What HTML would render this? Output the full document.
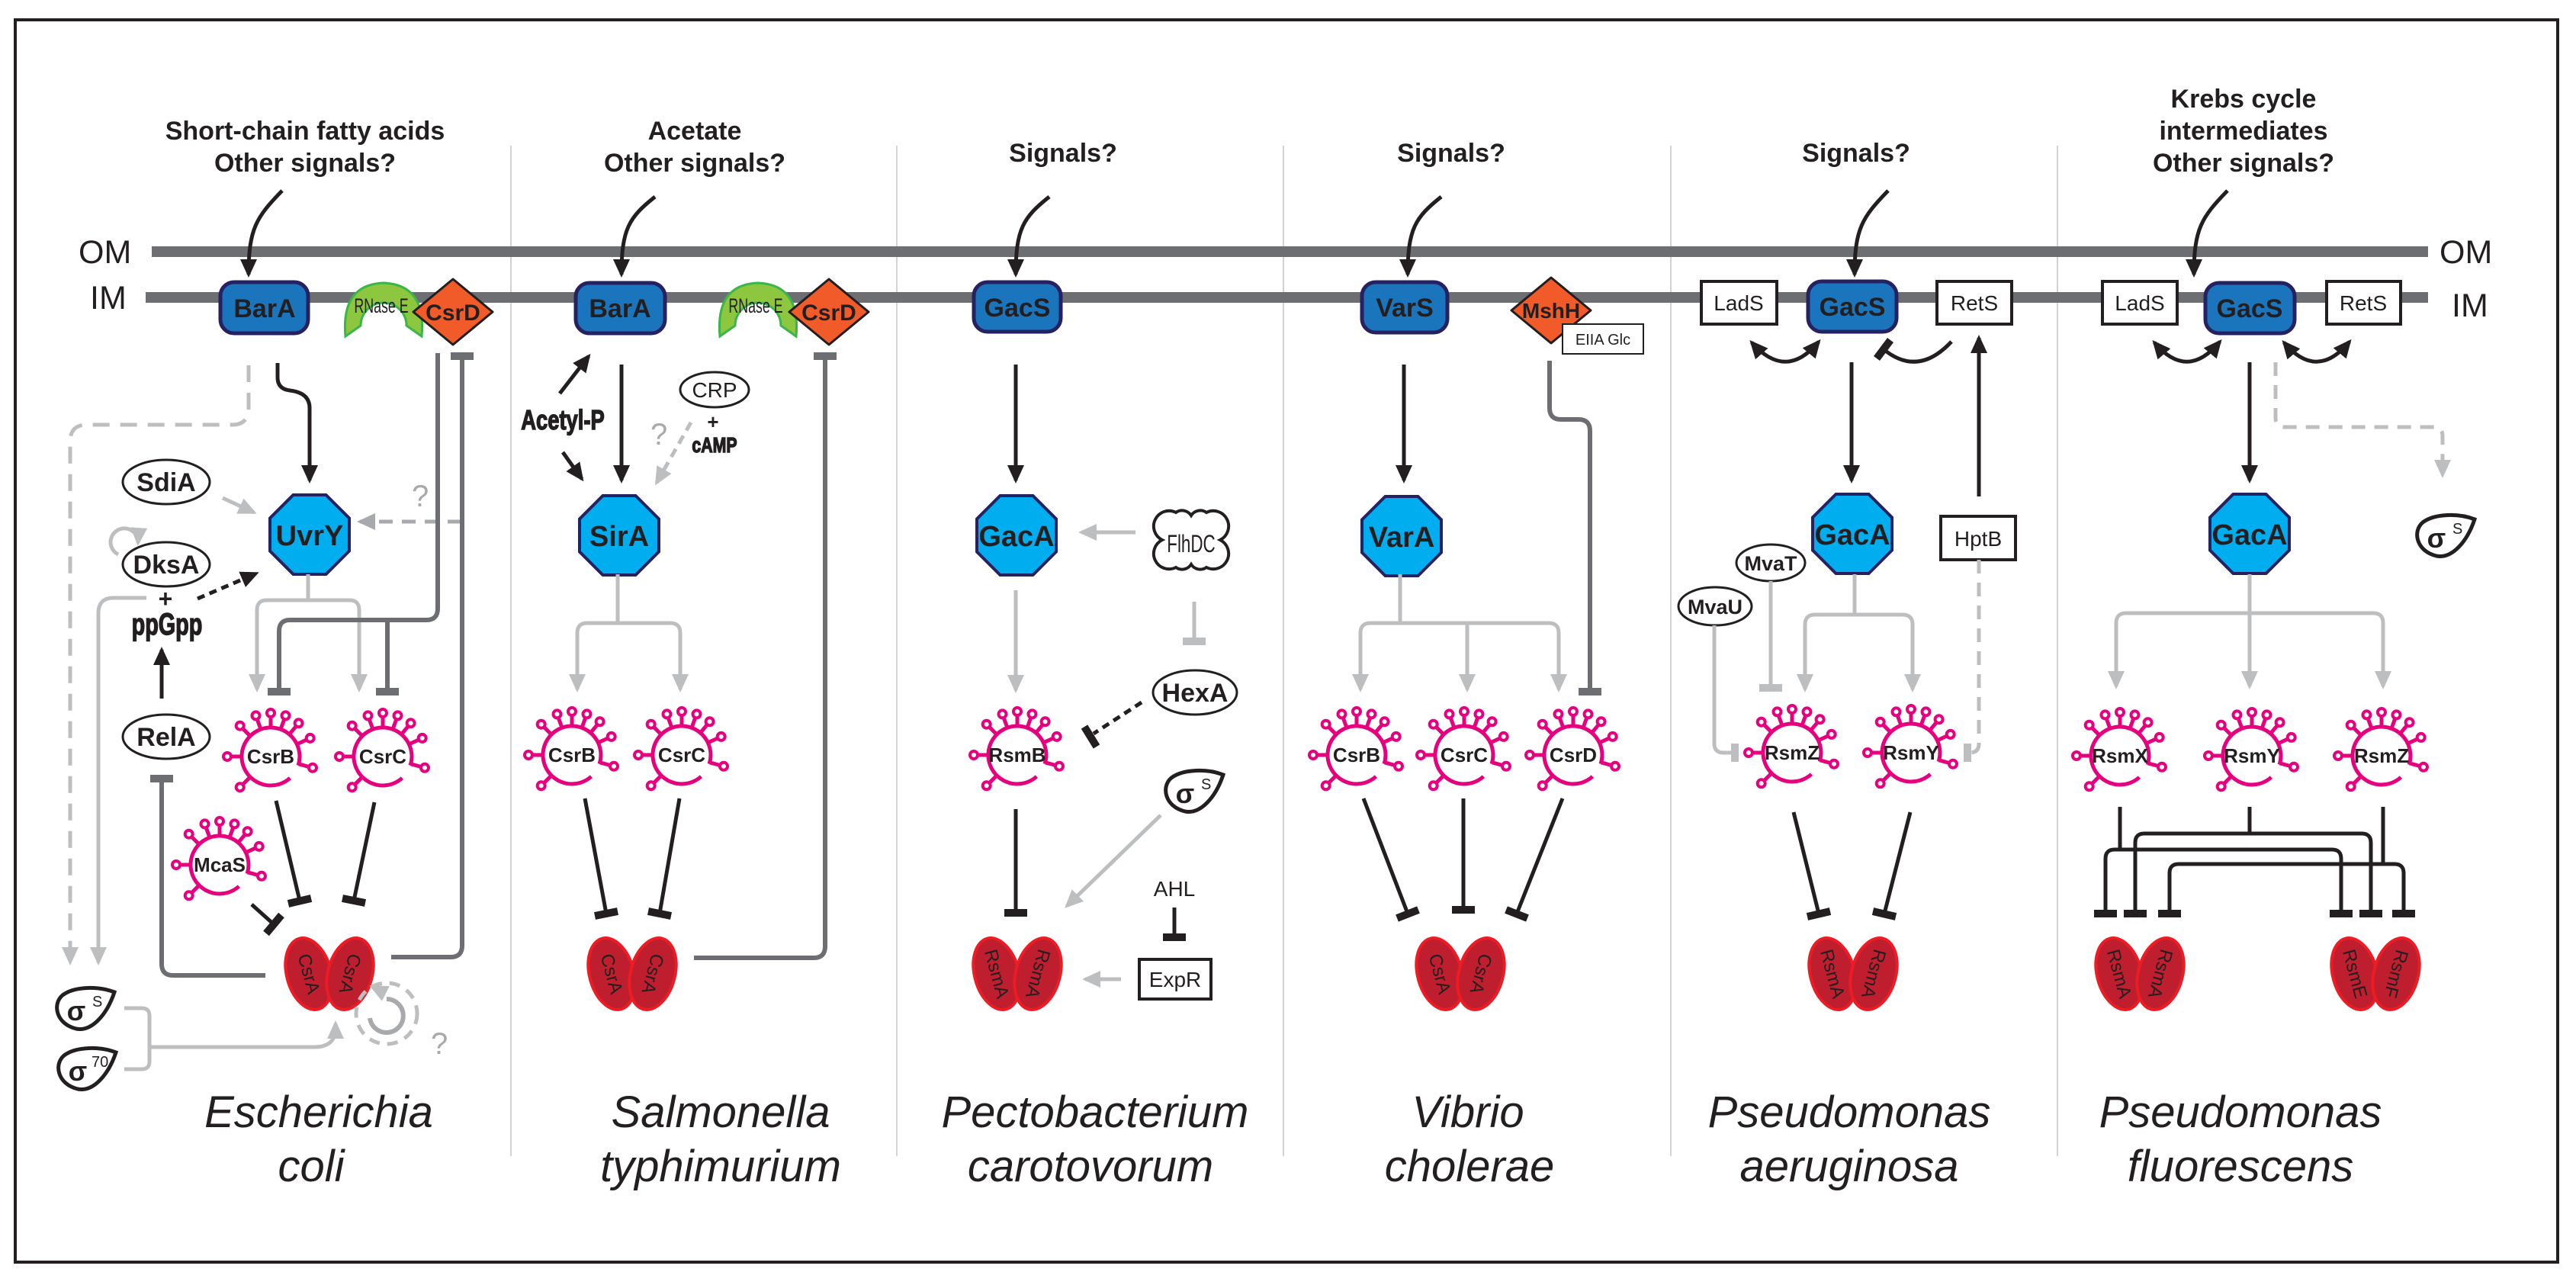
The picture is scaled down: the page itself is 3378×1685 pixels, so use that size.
<!DOCTYPE html>
<html><head><meta charset="utf-8"><style>
html,body{margin:0;padding:0;background:#fff;}
svg{display:block;}
text{font-family:"Liberation Sans",sans-serif;fill:#231f20;}
.b{font-weight:bold;}
.hd{font-size:34px;font-weight:bold;text-anchor:middle;}
.sp{font-size:58px;font-style:italic;text-anchor:middle;}
.bx{font-size:34px;font-weight:bold;text-anchor:middle;}
.oc{font-size:38px;font-weight:bold;text-anchor:middle;}
.fl{font-size:26px;font-weight:bold;text-anchor:middle;}
.el{font-size:34px;font-weight:bold;text-anchor:middle;}
.wb{font-size:28px;text-anchor:middle;}
.dm{font-size:24px;text-anchor:middle;}
.hv{stroke:#231f20;stroke-width:1.5px;}
.k{stroke:#231f20;stroke-width:5;fill:none;}
.g{stroke:#bcbec0;stroke-width:5;fill:none;}
.d{stroke:#6d6e71;stroke-width:6;fill:none;}
.tb{stroke:#231f20;stroke-width:10;fill:none;}
.tg{stroke:#bcbec0;stroke-width:10;fill:none;}
.td{stroke:#6d6e71;stroke-width:10;fill:none;}
.blue{fill:#1b75bc;stroke:#262262;stroke-width:5;}
.wbox{fill:#fff;stroke:#231f20;stroke-width:4;}
.ell{fill:#fff;stroke:#231f20;stroke-width:3;}
</style></head><body>
<svg width="3378" height="1685" viewBox="0 0 3378 1685" xmlns="http://www.w3.org/2000/svg">
<defs>
<marker id="ab" markerUnits="userSpaceOnUse" markerWidth="26" markerHeight="24" refX="20" refY="11" orient="auto"><path d="M0,0 L24,11 L0,22 Z" fill="#231f20"/></marker>
<marker id="abs" markerUnits="userSpaceOnUse" markerWidth="26" markerHeight="24" refX="20" refY="11" orient="auto-start-reverse"><path d="M0,0 L24,11 L0,22 Z" fill="#231f20"/></marker>
<marker id="ag" markerUnits="userSpaceOnUse" markerWidth="26" markerHeight="24" refX="20" refY="11" orient="auto"><path d="M0,0 L24,11 L0,22 Z" fill="#bcbec0"/></marker>
<marker id="aq" markerUnits="userSpaceOnUse" markerWidth="26" markerHeight="24" refX="20" refY="11" orient="auto"><path d="M0,0 L24,11 L0,22 Z" fill="#a7a9ac"/></marker>
<polygon id="oct" points="52,21.5 21.5,52 -21.5,52 -52,21.5 -52,-21.5 -21.5,-52 21.5,-52 52,-21.5" fill="#00aeef" stroke="#262262" stroke-width="4"/>
<g id="fl" stroke="#e6007e" stroke-width="5" fill="none">
<path d="M25.4,28.2 A38 38 0 1 1 36.1,11.7"/>
<path d="M-26.9,26.9 L-36.8,36.8 M-38,0 L-52,0 M-26.9,-26.9 L-36.8,-36.8 M-13,-35.7 L-17.8,-48.9 M0,-38 L0,-52 M13,-35.7 L17.8,-48.9 M24.4,-29.1 L33.4,-39.8 M34.4,-16.1 L47.1,-22 M36.7,9.8 L50.2,13.5"/>
<g fill="#fff" stroke-width="4">
<circle cx="-40.3" cy="40.3" r="5"/><circle cx="-57" cy="0" r="5"/><circle cx="-40.3" cy="-40.3" r="5"/><circle cx="-19.5" cy="-53.6" r="5"/><circle cx="0" cy="-57" r="5"/><circle cx="19.5" cy="-53.6" r="5"/><circle cx="36.6" cy="-43.7" r="5"/><circle cx="51.7" cy="-24.1" r="5"/><circle cx="55" cy="14.8" r="5"/>
</g></g>
<path id="sig" d="M38,-22 C18,-30 -14,-30 -30,-18 C-44,-6 -38,20 -12,26 C8,30 28,8 38,-22 Z" fill="#fff" stroke="#231f20" stroke-width="5"/>
<g id="dimer">
<ellipse cx="-27" cy="0" rx="29" ry="48" transform="rotate(-15 -27 0)" fill="#be1e2d" stroke="#ed1c24" stroke-width="4"/>
<ellipse cx="27" cy="0" rx="29" ry="48" transform="rotate(15 27 0)" fill="#be1e2d" stroke="#ed1c24" stroke-width="4"/>
</g>
<path id="rnase" d="M0,70 Q-6,2 50,0 Q106,2 100,70 L80,56 A30 30 0 0 0 20,56 Z" fill="#8dc63f" stroke="#39b54a" stroke-width="3"/>
<polygon id="dia" points="-52,0 0,-43 52,0 0,43" fill="#f15a29" stroke="#231f20" stroke-width="3" stroke-linejoin="round"/>
</defs>

<rect x="20" y="26" width="3334" height="1629" fill="none" stroke="#231f20" stroke-width="4"/>
<g stroke="#d1d3d4" stroke-width="2">
<line x1="670" y1="191" x2="670" y2="1516"/><line x1="1176" y1="191" x2="1176" y2="1516"/><line x1="1683" y1="191" x2="1683" y2="1516"/><line x1="2191" y1="191" x2="2191" y2="1516"/><line x1="2698" y1="191" x2="2698" y2="1516"/>
</g>
<line x1="199" y1="330" x2="3184" y2="330" stroke="#6d6e71" stroke-width="14"/>
<line x1="191" y1="390" x2="3184" y2="390" stroke="#6d6e71" stroke-width="14"/>
<text x="103" y="345" font-size="43">OM</text><text x="118" y="405" font-size="43">IM</text>
<text x="3199" y="345" font-size="43">OM</text><text x="3215" y="415" font-size="43">IM</text>

<text class="hd" x="400" y="183">Short-chain fatty acids</text><text class="hd" x="400" y="225">Other signals?</text>
<text class="hd" x="911" y="183">Acetate</text><text class="hd" x="911" y="225">Other signals?</text>
<text class="hd" x="1394" y="212">Signals?</text>
<text class="hd" x="1903" y="212">Signals?</text>
<text class="hd" x="2434" y="212">Signals?</text>
<text class="hd" x="2942" y="141">Krebs cycle</text><text class="hd" x="2942" y="183">intermediates</text><text class="hd" x="2942" y="225">Other signals?</text>

<g class="k" marker-end="url(#ab)">
<path d="M370,250 C336,285 326,300 326,360"/>
<path d="M859,258 C825,285 815,300 815,360"/>
<path d="M1376,258 C1342,285 1332,300 1332,360"/>
<path d="M1890,258 C1856,285 1846,300 1846,360"/>
<path d="M2476,250 C2442,285 2432,300 2432,360"/>
<path d="M2921,250 C2887,285 2877,300 2877,360"/>
</g>

<rect class="blue" x="289" y="370" width="115" height="67" rx="18"/><text class="bx" x="347" y="416">BarA</text>
<rect class="blue" x="755" y="371" width="117" height="66" rx="18"/><text class="bx" x="813" y="416">BarA</text>
<rect class="blue" x="1277" y="370" width="114" height="65" rx="18"/><text class="bx" x="1334" y="415">GacS</text>
<rect class="blue" x="1786" y="370" width="112" height="66" rx="18"/><text class="bx" x="1842" y="415">VarS</text>
<rect class="blue" x="2371" y="369" width="116" height="66" rx="18"/><text class="bx" x="2429" y="414">GacS</text>
<rect class="blue" x="2892" y="371" width="117" height="66" rx="18"/><text class="bx" x="2950" y="416">GacS</text>

<rect class="wbox" x="2231" y="369" width="99" height="56"/><text class="wb" x="2280" y="407">LadS</text>
<rect class="wbox" x="2540" y="369" width="98" height="56"/><text class="wb" x="2589" y="407">RetS</text>
<rect class="wbox" x="2757" y="369" width="98" height="56"/><text class="wb" x="2806" y="407">LadS</text>
<rect class="wbox" x="3051" y="369" width="97" height="56"/><text class="wb" x="3099" y="407">RetS</text>

<use href="#rnase" x="453" y="371"/><text x="500" y="410" font-size="27" text-anchor="middle" transform="translate(500 0) scale(0.66 1) translate(-500 0)">RNase E</text>
<use href="#dia" x="594" y="409"/><text class="b" x="594" y="420" font-size="30" text-anchor="middle">CsrD</text>
<use href="#rnase" x="944" y="371"/><text x="991" y="410" font-size="27" text-anchor="middle" transform="translate(991 0) scale(0.66 1) translate(-991 0)">RNase E</text>
<use href="#dia" x="1087" y="409"/><text class="b" x="1087" y="420" font-size="30" text-anchor="middle">CsrD</text>
<use href="#dia" x="2034" y="407"/><text class="b" x="2034" y="417" font-size="28" text-anchor="middle">MshH</text>
<rect x="2049" y="425" width="106" height="39" fill="#fff" stroke="#231f20" stroke-width="2"/><text x="2102" y="452" font-size="20" text-anchor="middle">EIIA Glc</text>

<use href="#oct" x="406" y="701"/><text class="oc" x="406" y="715">UvrY</text>
<use href="#oct" x="812" y="702"/><text class="oc" x="812" y="716">SirA</text>
<use href="#oct" x="1333" y="702"/><text class="oc" x="1333" y="716">GacA</text>
<use href="#oct" x="1838" y="703"/><text class="oc" x="1838" y="717">VarA</text>
<use href="#oct" x="2429" y="700"/><text class="oc" x="2429" y="714">GacA</text>
<use href="#oct" x="2950" y="700"/><text class="oc" x="2950" y="714">GacA</text>

<!-- Column 1 -->
<path class="g" stroke-dasharray="22 14" d="M326,479 L326,535 Q326,557 304,557 L114,557 Q92,557 92,579 L92,1262" marker-end="url(#ag)"/>
<path class="k" d="M364,476 L364,495 Q364,510 380,512 Q406,515 406,535 L406,630" marker-end="url(#ab)"/>
<ellipse class="ell" cx="218" cy="632" rx="57" ry="29"/><text class="el" x="218" y="644">SdiA</text>
<path class="g" d="M292,653 L333,672" marker-end="url(#ag)"/>
<path d="M605,684 L472,684" stroke="#a7a9ac" stroke-width="5" stroke-dasharray="18 12" fill="none" marker-end="url(#aq)"/>
<text x="540" y="664" font-size="40" style="fill:#a7a9ac">?</text>
<path class="g" d="M155,727 A18 18 0 1 1 181,712" marker-end="url(#ag)"/>
<ellipse class="ell" cx="218" cy="740" rx="57" ry="29"/><text class="el" x="218" y="752">DksA</text>
<text class="b" x="217" y="796" font-size="32" text-anchor="middle">+</text>
<text class="b hv" x="219" y="832" font-size="40" text-anchor="middle" transform="translate(219 0) scale(0.72 1) translate(-219 0)">ppGpp</text>
<path class="k" stroke-dasharray="10 7" d="M259,785 L336,752" marker-end="url(#ab)"/>
<path class="k" d="M212,916 L212,852" marker-end="url(#ab)"/>
<path class="g" d="M192,784 L149,784 Q129,784 129,804 L129,1262" marker-end="url(#ag)"/>
<path class="g" d="M404,753 L404,787 M337,904 L337,800 Q337,787 350,787 L458,787 Q471,787 471,800 L471,904" marker-end="url(#ag)"/>
<path class="g" d="M337,880 L337,904" marker-end="url(#ag)"/>
<path class="d" d="M574,463 L574,798 Q574,813 559,813 L380,813 Q366,813 366,828 L366,905 M508,813 L508,905"/>
<path class="td" d="M351,907 L381,907 M493,907 L523,907"/>
<path class="d" d="M606,467 L606,1240 Q606,1255 591,1255 L513,1255"/>
<path class="td" d="M591,467 L621,467"/>
<ellipse class="ell" cx="218" cy="966" rx="57" ry="29"/><text class="el" x="218" y="978">RelA</text>
<path class="d" d="M212,1021 L212,1264 Q212,1279 227,1279 L348,1279"/>
<path class="td" d="M197,1021 L227,1021"/>
<use href="#fl" x="355" y="992"/><text class="fl" x="355" y="1001">CsrB</text>
<use href="#fl" x="502" y="992"/><text class="fl" x="502" y="1001">CsrC</text>
<use href="#fl" x="288" y="1134"/><text class="fl" x="288" y="1143">McaS</text>
<path class="k" d="M362,1050 L393,1181 M491,1052 L464,1181 M330,1186 L359,1212"/>
<path class="tb" d="M378,1185 L408,1178 M449,1178 L479,1184 M349,1224 L369,1200"/>
<use href="#dimer" x="432" y="1277"/>
<text class="dm" x="405" y="1285" transform="rotate(75 405 1277)">CsrA</text>
<text class="dm" x="459" y="1285" transform="rotate(105 459 1277)">CsrA</text>
<use href="#sig" x="112" y="1323"/><text class="b" x="100" y="1338" font-size="36" text-anchor="middle">σ</text><text x="121" y="1320" font-size="20">S</text>
<use href="#sig" x="114" y="1402"/><text class="b" x="102" y="1417" font-size="36" text-anchor="middle">σ</text><text x="120" y="1399" font-size="20">70</text>
<path class="g" d="M163,1322 L186,1322 Q196,1322 196,1332 L196,1392 Q196,1402 186,1402 L163,1402 M196,1373 L412,1373 Q440,1373 440,1348"/>
<path class="g" d="M440,1360 L440,1342" marker-end="url(#ag)"/>
<circle cx="507" cy="1329" r="40" fill="none" stroke="#bcbec0" stroke-width="5" stroke-dasharray="14 10"/>
<path d="M485,1335 A22 22 0 1 0 507,1310" fill="none" stroke="#a7a9ac" stroke-width="6"/>
<path class="g" d="M500,1300 L488,1294" marker-end="url(#ag)"/>
<text x="565" y="1382" font-size="40" style="fill:#a7a9ac">?</text>

<!-- Column 2 -->
<text class="b hv" x="738" y="563" font-size="36" text-anchor="middle" transform="translate(738 0) scale(0.76 1) translate(-738 0)">Acetyl-P</text>
<path class="k" d="M734,516 L772,467" marker-end="url(#ab)"/>
<path class="k" d="M738,593 L763,628" marker-end="url(#ab)"/>
<path class="k" d="M815,478 L815,630" marker-end="url(#ab)"/>
<ellipse class="ell" cx="937" cy="511" rx="45" ry="23"/><text x="937" y="521" font-size="28" text-anchor="middle">CRP</text>
<text class="b" x="935" y="562" font-size="26" text-anchor="middle">+</text>
<text class="b hv" x="937" y="593" font-size="28" text-anchor="middle" transform="translate(937 0) scale(0.76 1) translate(-937 0)">cAMP</text>
<path d="M906,554 L861,633" stroke="#bcbec0" stroke-width="5" stroke-dasharray="12 8" fill="none" marker-end="url(#ag)"/>
<text x="853" y="583" font-size="40" style="fill:#a7a9ac">?</text>
<path class="g" d="M810,753 L810,817 M757,904 L757,830 Q757,817 770,817 L879,817 Q892,817 892,830 L892,904" marker-end="url(#ag)"/>
<path class="g" d="M757,880 L757,904" marker-end="url(#ag)"/>
<use href="#fl" x="750" y="990"/><text class="fl" x="750" y="999">CsrB</text>
<use href="#fl" x="894" y="990"/><text class="fl" x="894" y="999">CsrC</text>
<path class="k" d="M767,1047 L795,1198 M891,1047 L865,1198"/>
<path class="tb" d="M780,1201 L810,1195 M850,1195 L880,1201"/>
<use href="#dimer" x="829" y="1277"/>
<text class="dm" x="802" y="1285" transform="rotate(75 802 1277)">CsrA</text>
<text class="dm" x="856" y="1285" transform="rotate(105 856 1277)">CsrA</text>
<path class="d" d="M910,1256 L1067,1256 Q1082,1256 1082,1241 L1082,467"/>
<path class="td" d="M1067,467 L1097,467"/>

<!-- Column 3 -->
<path class="k" d="M1332,478 L1332,630" marker-end="url(#ab)"/>
<path d="M1542,672 a14 14 0 0 1 20,4 a14 14 0 0 1 20,-4 a17 17 0 0 1 18,36 a17 17 0 0 1 -18,36 a14 14 0 0 1 -20,-4 a14 14 0 0 1 -20,4 a17 17 0 0 1 -18,-36 a17 17 0 0 1 18,-36 Z" fill="#fff" stroke="#231f20" stroke-width="4"/>
<text x="1562" y="724" font-size="32" text-anchor="middle" transform="translate(1562 0) scale(0.7 1) translate(-1562 0)">FlhDC</text>
<path class="g" d="M1489,698 L1418,698" marker-end="url(#ag)"/>
<path class="g" d="M1566,789 L1566,838"/><path class="tg" d="M1551,841 L1581,841"/>
<ellipse class="ell" cx="1567" cy="908" rx="55" ry="29"/><text class="el" x="1567" y="920">HexA</text>
<path class="k" stroke-dasharray="10 7" d="M1497,921 L1434,962"/>
<path class="tb" d="M1422,953 L1438,979"/>
<path class="g" d="M1332,774 L1332,905" marker-end="url(#ag)"/>
<use href="#fl" x="1334" y="990"/><text class="fl" x="1334" y="999">RsmB</text>
<path class="k" d="M1332,1061 L1332,1195"/><path class="tb" d="M1317,1197 L1347,1197"/>
<use href="#sig" x="1566" y="1038"/><text class="b" x="1554" y="1053" font-size="36" text-anchor="middle">σ</text><text x="1575" y="1035" font-size="20">S</text>
<path class="g" d="M1522,1069 L1399,1188" marker-end="url(#ag)"/>
<text x="1540" y="1175" font-size="28" text-anchor="middle">AHL</text>
<path class="k" d="M1540,1190 L1540,1227"/><path class="tb" d="M1525,1229 L1555,1229"/>
<rect class="wbox" x="1494" y="1258" width="94" height="52"/><text class="wb" x="1541" y="1294">ExpR</text>
<path class="g" d="M1470,1284 L1423,1284" marker-end="url(#ag)"/>
<use href="#dimer" x="1334" y="1277"/>
<text class="dm" x="1307" y="1285" transform="rotate(75 1307 1277)">RsmA</text>
<text class="dm" x="1361" y="1285" transform="rotate(105 1361 1277)">RsmA</text>

<!-- Column 4 -->
<path class="k" d="M1841,478 L1841,630" marker-end="url(#ab)"/>
<path class="d" d="M2032,473 L2032,535 Q2032,550 2047,550 L2070,550 Q2085,550 2085,565 L2085,905"/>
<path class="td" d="M2070,907 L2100,907"/>
<path class="g" d="M1836,753 L1836,817 M1784,904 L1784,830 Q1784,817 1797,817 L2031,817 Q2044,817 2044,830 L2044,904" marker-end="url(#ag)"/>
<path class="g" d="M1784,880 L1784,904" marker-end="url(#ag)"/>
<path class="g" d="M1924,817 L1924,904" marker-end="url(#ag)"/>
<use href="#fl" x="1779" y="990"/><text class="fl" x="1779" y="999">CsrB</text>
<use href="#fl" x="1920" y="990"/><text class="fl" x="1920" y="999">CsrC</text>
<use href="#fl" x="2063" y="990"/><text class="fl" x="2063" y="999">CsrD</text>
<path class="k" d="M1788,1047 L1846,1198 M1919,1047 L1919,1191 M2049,1047 L1989,1198"/>
<path class="tb" d="M1832,1204 L1860,1193 M1904,1193 L1934,1193 M1975,1193 L2003,1204"/>
<use href="#dimer" x="1915" y="1277"/>
<text class="dm" x="1888" y="1285" transform="rotate(75 1888 1277)">CsrA</text>
<text class="dm" x="1942" y="1285" transform="rotate(105 1942 1277)">CsrA</text>

<!-- Column 5 -->
<path class="k" d="M2297,449 Q2342,500 2385,448" marker-start="url(#abs)" marker-end="url(#ab)"/>
<path class="k" d="M2559,448 Q2515,495 2470,458"/>
<path class="tb" d="M2479,446 L2461,470"/>
<path class="k" d="M2595,651 L2595,443" marker-end="url(#ab)"/>
<path class="k" d="M2428,475 L2428,630" marker-end="url(#ab)"/>
<rect class="wbox" x="2545" y="677" width="98" height="57"/><text class="wb" x="2594" y="716">HptB</text>
<ellipse class="ell" cx="2322" cy="738" rx="45" ry="24"/><text class="b" x="2322" y="748" font-size="27" text-anchor="middle">MvaT</text>
<ellipse class="ell" cx="2249" cy="795" rx="48" ry="25"/><text class="b" x="2249" y="805" font-size="27" text-anchor="middle">MvaU</text>
<path class="g" d="M2432,753 L2432,806 M2367,904 L2367,819 Q2367,806 2380,806 L2495,806 Q2508,806 2508,819 L2508,904" marker-end="url(#ag)"/>
<path class="g" d="M2367,880 L2367,904" marker-end="url(#ag)"/>
<path class="g" d="M2322,762 L2322,898"/><path class="tg" d="M2307,902 L2337,902"/>
<path class="g" d="M2248,820 L2248,975 Q2248,987 2260,987 L2272,987"/><path class="tg" d="M2275,975 L2275,999"/>
<path class="g" stroke-dasharray="18 12" d="M2595,734 L2595,975 Q2595,987 2583,987"/><path class="tg" d="M2580,975 L2580,999"/>
<use href="#fl" x="2350" y="987"/><text class="fl" x="2350" y="996">RsmZ</text>
<use href="#fl" x="2506" y="987"/><text class="fl" x="2506" y="996">RsmY</text>
<path class="k" d="M2352,1065 L2385,1198 M2505,1065 L2471,1198"/>
<path class="tb" d="M2370,1202 L2400,1195 M2456,1195 L2486,1202"/>
<use href="#dimer" x="2430" y="1277"/>
<text class="dm" x="2403" y="1285" transform="rotate(75 2403 1277)">RsmA</text>
<text class="dm" x="2457" y="1285" transform="rotate(105 2457 1277)">RsmA</text>

<!-- Column 6 -->
<path class="k" d="M2825,449 Q2868,500 2911,448" marker-start="url(#abs)" marker-end="url(#ab)"/>
<path class="k" d="M2995,449 Q3038,500 3081,448" marker-start="url(#abs)" marker-end="url(#ab)"/>
<path class="k" d="M2950,475 L2950,630" marker-end="url(#ab)"/>
<path class="g" stroke-dasharray="18 12" d="M2984,475 L2984,548 Q2984,560 2996,560 L3191,560 Q3203,560 3203,572 L3203,623" marker-end="url(#ag)"/>
<use href="#sig" x="3207" y="703"/><text class="b" x="3195" y="718" font-size="36" text-anchor="middle">σ</text><text x="3216" y="700" font-size="20">S</text>
<path class="g" d="M2950,753 L2950,900" marker-end="url(#ag)"/>
<path class="g" d="M2775,900 L2775,817 Q2775,804 2788,804 L3112,804 Q3125,804 3125,817 L3125,900" marker-end="url(#ag)"/>
<path class="g" d="M2775,880 L2775,900" marker-end="url(#ag)"/>
<use href="#fl" x="2780" y="991"/><text class="fl" x="2780" y="1000">RsmX</text>
<use href="#fl" x="2953" y="991"/><text class="fl" x="2953" y="1000">RsmY</text>
<use href="#fl" x="3123" y="991"/><text class="fl" x="3123" y="1000">RsmZ</text>
<path class="k" d="M2950,1058 L2950,1093 M2800,1196 L2800,1105 Q2800,1093 2812,1093 L3097,1093 Q3109,1093 3109,1105 L3109,1196"/>
<path class="k" d="M2780,1058 L2780,1114 M2761,1196 L2761,1126 Q2761,1114 2773,1114 L3058,1114 Q3070,1114 3070,1126 L3070,1196"/>
<path class="k" d="M3125,1058 L3125,1133 M2845,1196 L2845,1145 Q2845,1133 2857,1133 L3140,1133 Q3152,1133 3152,1145 L3152,1196"/>
<path class="tb" d="M2746,1198 L2776,1198 M2785,1198 L2815,1198 M2830,1198 L2860,1198 M3055,1198 L3085,1198 M3094,1198 L3124,1198 M3137,1198 L3167,1198"/>
<use href="#dimer" x="2806" y="1277"/>
<text class="dm" x="2779" y="1285" transform="rotate(75 2779 1277)">RsmA</text>
<text class="dm" x="2833" y="1285" transform="rotate(105 2833 1277)">RsmA</text>
<use href="#dimer" x="3115" y="1277"/>
<text class="dm" x="3088" y="1285" transform="rotate(75 3088 1277)">RsmE</text>
<text class="dm" x="3142" y="1285" transform="rotate(105 3142 1277)">RsmF</text>

<text class="sp" x="418" y="1478">Escherichia</text><text class="sp" x="408" y="1549">coli</text>
<text class="sp" x="945" y="1478">Salmonella</text><text class="sp" x="945" y="1549">typhimurium</text>
<text class="sp" x="1436" y="1478">Pectobacterium</text><text class="sp" x="1430" y="1549">carotovorum</text>
<text class="sp" x="1925" y="1478">Vibrio</text><text class="sp" x="1927" y="1549">cholerae</text>
<text class="sp" x="2425" y="1478">Pseudomonas</text><text class="sp" x="2425" y="1549">aeruginosa</text>
<text class="sp" x="2938" y="1478">Pseudomonas</text><text class="sp" x="2938" y="1549">fluorescens</text>
</svg>
</body></html>
